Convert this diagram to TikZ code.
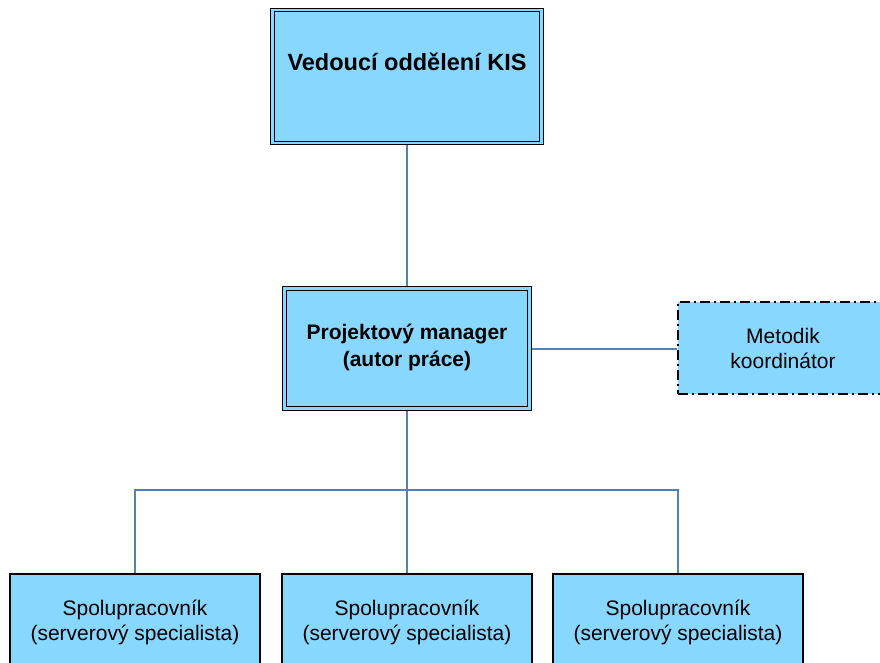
\documentclass[tikz,border=0pt]{standalone}
\usepackage{fontspec}
\setmainfont{Liberation Sans}
\usetikzlibrary{backgrounds}
\definecolor{boxfill}{RGB}{135,215,255}
\definecolor{linkblue}{RGB}{79,129,189}
\tikzset{
  headbox/.style={draw=black, double=boxfill, double distance=2.6pt, line width=1.1pt,
    fill=boxfill, minimum width=#1, inner sep=0pt},
  staffbox/.style={draw=black, line width=1.2pt, fill=boxfill, inner sep=0pt,
    minimum width=250pt, minimum height=96pt},
  sidebox/.style={draw=black, line width=1.8pt, fill=boxfill, inner sep=0pt,
    dash pattern=on 10pt off 4pt on 2pt off 4pt,
    minimum width=210pt, minimum height=92pt},
  boldlabel/.style={font=\bfseries\fontsize{21}{27}\selectfont, align=center},
  plainlabel/.style={font=\fontsize{21}{25}\selectfont, align=center},
  link/.style={draw=linkblue, line width=2pt}
}
\begin{document}
\begin{tikzpicture}[x=1pt, y=-1pt]
  \useasboundingbox (0,0) rectangle (880,662);
  \clip (0,0) rectangle (880,662);

  % management boxes
  \node[headbox=269pt, minimum height=133pt] (head) at (407,76.5) {};
  \node[font=\bfseries\fontsize{23.5}{28}\selectfont] (headtext) at (407,62) {Vedoucí oddělení KIS};
  \node[headbox=245pt, minimum height=120pt] (pm) at (407,348.5) {};
  \node[boldlabel] (pmtext) at (407,347) {Projektový manager\\(autor práce)};

  % side role
  \node[sidebox] (met) at (783,348) {};
  \node[plainlabel] (mettext) at (783,348) {Metodik\\koordinátor};

  % team members
  \node[staffbox] (s1) at (135,622) {};
  \node[staffbox] (s2) at (407,622) {};
  \node[staffbox] (s3) at (678,622) {};
  \node[plainlabel] (s1text) at (135,622) {Spolupracovník\\(serverový specialista)};
  \node[plainlabel] (s2text) at (407,622) {Spolupracovník\\(serverový specialista)};
  \node[plainlabel] (s3text) at (678,622) {Spolupracovník\\(serverový specialista)};

  \coordinate (bus) at (407,490);

  % connectors behind the boxes
  \begin{scope}[on background layer]
    \draw[link] (head.south) -- (pm.north);
    \draw[link] (pm.south) -- (s2.north);
    \draw[link] (pm.east) -- (pm.east -| met.west);
    \draw[link] (s1.north) |- (bus) -| (s3.north);
  \end{scope}
\end{tikzpicture}
\end{document}
